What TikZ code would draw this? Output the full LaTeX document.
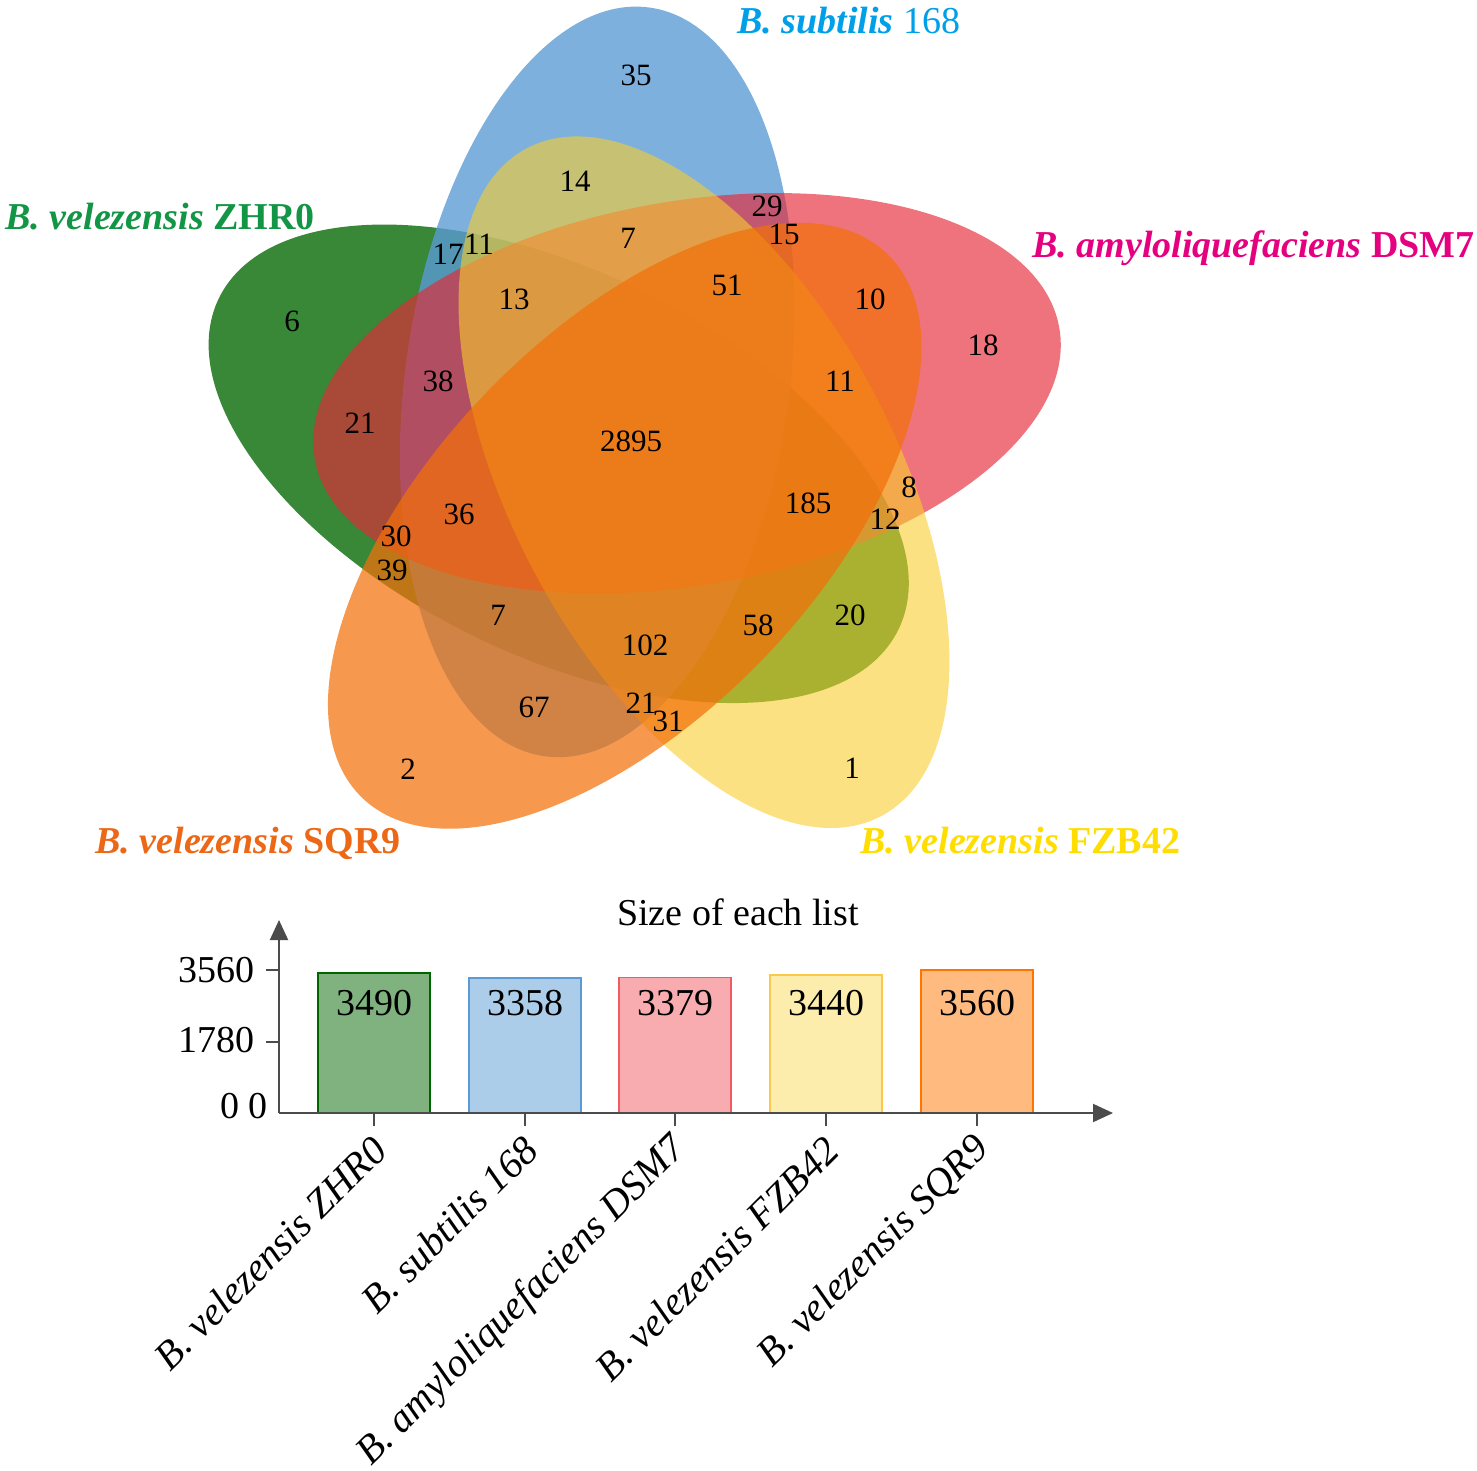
\documentclass[tikz,border=0pt]{standalone}
\usepackage{fontspec}
\setmainfont{Liberation Serif}
\usetikzlibrary{arrows.meta, positioning}

% set colours
\definecolor{zhr}{RGB}{0,102,0}
\definecolor{sub}{RGB}{90,155,212}
\definecolor{dsm}{RGB}{230,40,55}
\definecolor{fzb}{RGB}{248,205,45}
\definecolor{sqr}{RGB}{242,112,10}
\definecolor{bardsm}{RGB}{241,90,96}
\definecolor{barfzb}{RGB}{250,220,91}
\definecolor{barsqr}{RGB}{255,117,0}
\definecolor{zhrtext}{RGB}{18,150,70}
\definecolor{subtext}{RGB}{0,160,233}
\definecolor{dsmtext}{RGB}{229,0,127}
\definecolor{sqrtext}{RGB}{237,104,22}
\definecolor{fzbtext}{RGB}{255,221,0}
\definecolor{axisgray}{RGB}{75,75,75}

\begin{document}
\begin{tikzpicture}[x=0.5pt, y=-0.5pt, >={Triangle[length=10pt, width=9pt]}]
% Define styles for petals, counts, labels and bars
\tikzstyle{petal} = [x radius=378, y radius=192]
\tikzstyle{count} = [inner sep=0pt, font=\fontsize{15.5}{18}\selectfont]
\tikzstyle{setlabel} = [inner sep=0pt, anchor=base west, font=\fontsize{19}{22}\selectfont\bfseries]
\tikzstyle{bar} = [line width=0.75pt, fill opacity=0.5]
\tikzstyle{barnum} = [inner sep=0pt, font=\fontsize{19}{22}\selectfont]
\tikzstyle{ticklabel} = [inner sep=0pt, anchor=east, font=\fontsize{19}{22}\selectfont]
\tikzstyle{listname} = [inner sep=0pt, anchor=east, rotate=45, font=\fontsize{20}{24}\selectfont\itshape]
\tikzstyle{axis} = [draw=axisgray, line width=1pt]

\useasboundingbox (0,0) rectangle (1477,1471);

% Petals (five ellipses turned by 72 degrees)
\fill[zhr, fill opacity=0.78, rotate around={-26:(558.7,463.8)}] (558.7,463.8) ellipse [petal];
\fill[sub, fill opacity=0.79, rotate around={-98:(597.2,381.9)}] (597.2,381.9) ellipse [petal];
\fill[dsm, fill opacity=0.65, rotate around={-170:(687,393.3)}] (687,393.3) ellipse [petal];
\fill[fzb, fill opacity=0.6, rotate around={-62:(704,482.2)}] (704,482.2) ellipse [petal];
\fill[sqr, fill opacity=0.72, rotate around={-134:(624.7,525.8)}] (624.7,525.8) ellipse [petal];

% Counts of each region
\node[count] (s35) at (636,75) {35};
\node[count] (sf14) at (575,181) {14};
\node[count] (sd29) at (767,206) {29};
\node[count] (sdq15) at (784,234) {15};
\node[count] (zs17) at (448,254) {17};
\node[count] (zsf11) at (479,244) {11};
\node[count] (sdf7) at (628,238) {7};
\node[count] (sdfq51) at (727,285) {51};
\node[count] (dq10) at (870,299) {10};
\node[count] (zsdf13) at (514,299) {13};
\node[count] (z6) at (292,321) {6};
\node[count] (d18) at (983,345) {18};
\node[count] (zsd38) at (438,381) {38};
\node[count] (dfq11) at (840,381) {11};
\node[count] (zd21) at (360,423) {21};
\node[count] (all) at (631,441) {2895};
\node[count] (zsdq36) at (459,514) {36};
\node[count] (zdfq185) at (808,503) {185};
\node[count] (df8) at (909,487) {8};
\node[count] (zdf12) at (885,519) {12};
\node[count] (zdq30) at (396,536) {30};
\node[count] (zq39) at (392,570) {39};
\node[count] (zsq7) at (498,615) {7};
\node[count] (zf20) at (850,615) {20};
\node[count] (zfq58) at (758,625) {58};
\node[count] (zsfq102) at (645,645) {102};
\node[count] (sq67) at (534,707) {67};
\node[count] (sfq21) at (641,703) {21};
\node[count] (fq31) at (668,721) {31};
\node[count] (q2) at (408,769) {2};
\node[count] (f1) at (852,768) {1};

% Set labels
\node[setlabel, text=subtext] (subname) at (737,34) {\textit{B. subtilis} \textmd{168}};
\node[setlabel, text=zhrtext] (zhrname) at (5,230) {\textit{B. velezensis} ZHR0};
\node[setlabel, text=dsmtext, anchor=base east] (dsmname) at (1475,257) {\textit{B. amyloliquefaciens} DSM7};
\node[setlabel, text=sqrtext] (sqrname) at (95,853) {\textit{B. velezensis} SQR9};
\node[setlabel, text=fzbtext] (fzbname) at (860,853) {\textit{B. velezensis} FZB42};

% Bar chart
\node[barnum] (title) at (738,912) {Size of each list};
\filldraw[bar, draw=zhr, fill=zhr] (318,1113) rectangle (430,972.8);
\filldraw[bar, draw=sub, fill=sub] (469,1113) rectangle (581,978.1);
\filldraw[bar, draw=bardsm, fill=bardsm] (619,1113) rectangle (731,977.3);
\filldraw[bar, draw=barfzb!80!orange, fill=barfzb] (770,1113) rectangle (882,974.8);
\filldraw[bar, draw=barsqr, fill=barsqr] (921,1113) rectangle (1033,970);
\node[barnum] (vzhr) at (374,1003) {3490};
\node[barnum] (vsub) at (525,1003) {3358};
\node[barnum] (vdsm) at (675,1003) {3379};
\node[barnum] (vfzb) at (826,1003) {3440};
\node[barnum] (vsqr) at (977,1003) {3560};

% Axes and ticks
\coordinate (origin) at (279,1113);
\coordinate (ytop) at (279,920);
\coordinate (xend) at (1113,1113);
\draw[axis, ->] (origin) -- (ytop);
\draw[axis, ->] (origin) -- (xend);
\draw[axis] (266,970) -- (279,970);
\draw[axis] (266,1041.5) -- (279,1041.5);
\node[ticklabel] (t3560) at (255,970) {3560};
\node[ticklabel] (t1780) at (255,1040) {1780};
\node[ticklabel] (t0) at (268,1106) {0 0};
\foreach \x in {374,525,675,826,977}
  \draw[axis] (\x,1113) -- (\x,1126);

% Names of the lists
\node[listname] (nzhr) at (380,1143) {B. velezensis ZHR0};
\node[listname] (nsub) at (531,1143) {B. subtilis 168};
\node[listname] (ndsm) at (681,1143) {B. amyloliquefaciens DSM7};
\node[listname] (nfzb) at (832,1143) {B. velezensis FZB42};
\node[listname] (nsqr) at (983,1143) {B. velezensis SQR9};
\end{tikzpicture}
\end{document}
